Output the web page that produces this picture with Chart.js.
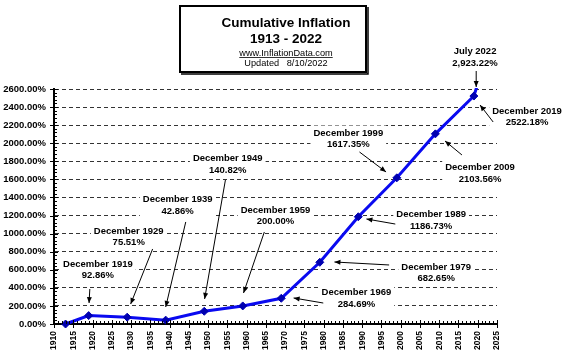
<!DOCTYPE html>
<html><head><meta charset="utf-8">
<script src="https://cdn.jsdelivr.net/npm/chart.js@4/dist/chart.umd.min.js"></script>
<style>html,body{margin:0;padding:0;background:#fff}#wrap{width:566px;height:357px;position:relative}</style>
</head><body><div id="wrap"><canvas id="c" width="566" height="357"></canvas></div>
<script>
// ---- data ----
const years = [1913, 1919, 1929, 1939, 1949, 1959, 1969, 1979, 1989, 1999, 2009, 2019, 2022];
const cumulative = [0, 92.86, 75.51, 42.86, 140.82, 200.00, 284.69, 682.65, 1186.73, 1617.35, 2103.56, 2522.18, 2923.22];
const noteTitles = ['December 1919','December 1929','December 1939','December 1949','December 1959','December 1969','December 1979','December 1989','December 1999','December 2009','December 2019','July 2022'];
const noteValues = ['92.86%','75.51%','42.86%','140.82%','200.00%','284.69%','682.65%','1186.73%','1617.35%','2103.56%','2522.18%','2,923.22%'];
const titleLines = ['Cumulative Inflation', '1913 - 2022'];
const siteLine = 'www.InflationData.com';
const updatedLine = 'Updated   8/10/2022';
const xMin = 1910, xMax = 2025, xStep = 5;
const yMin = 0, yMax = 2600, yStep = 200;

// ---- annotation placement (data coordinates: label centre, arrow start, arrow tip) ----
const notePlace = [
  {lx:1921.4, ly:603,  ax:1919.3, ay:387,  bx:1919.1, by:232},
  {lx:1929.4, ly:968,  ax:1935.6, ay:830,  bx:1929.9, by:221},
  {lx:1942.1, ly:1317, ax:1944.2, ay:1129, bx:1939.0, by:188},
  {lx:1955.1, ly:1770, ax:1954.5, ay:1593, bx:1949.1, by:277},
  {lx:1967.5, ly:1200, ax:1964.6, ay:1018, bx:1959.2, by:343},
  {lx:1988.5, ly:288,  ax:1979.9, ay:232,  bx:1972.2, by:288},
  {lx:2009.2, ly:570,  ax:1997.0, ay:653,  bx:1982.8, by:686},
  {lx:2007.9, ly:1151, ax:1998.6, ay:1106, bx:1991.1, by:1162},
  {lx:1986.4, ly:2052, ax:1989.3, ay:1903, bx:1996.2, by:1682},
  {lx:2020.6, ly:1671, ax:2015.9, ay:1870, bx:2011.5, by:2025},
  {lx:2032.8, ly:2296, ax:2024.0, ay:2235, bx:2020.6, by:2423},
  {lx:2019.3, ly:2954, ax:2019.6, ay:2799, bx:2019.6, by:2622}
];

const FONT = '"Liberation Sans", Arial, sans-serif';

const tickMarks = {
  id: 'tickMarks',
  afterDatasetsDraw(chart) {
    const {ctx, chartArea: a, scales: {x, y}} = chart;
    ctx.save();
    ctx.strokeStyle = '#000';
    ctx.lineWidth = 1;
    ctx.beginPath();
    for (let v = yMin; v <= yMax; v += 40) {
      const py = Math.round(y.getPixelForValue(v)) + 0.5;
      if (v % yStep === 0) { ctx.moveTo(a.left - 4, py); ctx.lineTo(a.left + 4, py); }
      else { ctx.moveTo(a.left, py); ctx.lineTo(a.left + 3, py); }
    }
    for (let v = xMin; v <= xMax; v += 1) {
      const px = Math.round(x.getPixelForValue(v)) + 0.5;
      if (v % xStep === 0) { ctx.moveTo(px, a.bottom - 4); ctx.lineTo(px, a.bottom + 4); }
      else { ctx.moveTo(px, a.bottom); ctx.lineTo(px, a.bottom - 3); }
    }
    ctx.stroke();
    ctx.restore();
  }
};

function arrow(ctx, x0, y0, x1, y1) {
  ctx.beginPath(); ctx.moveTo(x0, y0); ctx.lineTo(x1, y1); ctx.stroke();
  const ang = Math.atan2(y1 - y0, x1 - x0), L = 6, W = 2.5;
  ctx.beginPath();
  ctx.moveTo(x1, y1);
  ctx.lineTo(x1 - L * Math.cos(ang) + W * Math.sin(ang), y1 - L * Math.sin(ang) - W * Math.cos(ang));
  ctx.lineTo(x1 - L * Math.cos(ang) - W * Math.sin(ang), y1 - L * Math.sin(ang) + W * Math.cos(ang));
  ctx.closePath(); ctx.fill();
}

const notes = {
  id: 'notes',
  afterDraw(chart) {
    const {ctx, scales: {x, y}} = chart;
    ctx.save();
    ctx.font = 'bold 9.5px ' + FONT;
    ctx.textAlign = 'center';
    ctx.textBaseline = 'middle';
    notePlace.forEach((p, i) => {
      const cx = x.getPixelForValue(p.lx), cy = y.getPixelForValue(p.ly);
      const w = Math.max(ctx.measureText(noteTitles[i]).width, ctx.measureText(noteValues[i]).width) + 6;
      ctx.fillStyle = '#fff';
      ctx.fillRect(cx - w / 2, cy - 13, w, 26);
      ctx.fillStyle = '#000';
      ctx.fillText(noteTitles[i], cx, cy - 5.5);
      ctx.fillText(noteValues[i], cx, cy + 6);
      ctx.strokeStyle = '#000'; ctx.lineWidth = 1;
      arrow(ctx, x.getPixelForValue(p.ax), y.getPixelForValue(p.ay), x.getPixelForValue(p.bx), y.getPixelForValue(p.by));
    });
    // title box
    ctx.fillStyle = '#fff';
    ctx.fillRect(179, 5, 188, 68);
    ctx.strokeStyle = '#000'; ctx.lineWidth = 2;
    ctx.strokeRect(180, 6, 186, 66);
    ctx.beginPath(); ctx.moveTo(368, 7); ctx.lineTo(368, 74); ctx.lineTo(181, 74); ctx.lineWidth = 1.5; ctx.stroke();
    ctx.fillStyle = '#000';
    ctx.font = 'bold 13.5px ' + FONT;
    ctx.fillText(titleLines[0], 286, 23);
    ctx.fillText(titleLines[1], 286, 39.5);
    ctx.font = '9.2px ' + FONT;
    ctx.fillText(siteLine, 286, 53);
    const sw = ctx.measureText(siteLine).width;
    ctx.fillRect(286 - sw / 2, 57, sw, 0.8);
    ctx.fillText(updatedLine, 286, 63);
    ctx.restore();
  }
};

new Chart(document.getElementById('c'), {
  type: 'line',
  data: {
    datasets: [{
      data: years.map((yr, i) => ({x: yr, y: cumulative[i]})),
      borderColor: '#0a0af0',
      borderWidth: 3,
      pointStyle: 'rectRot',
      pointRadius: 4,
      pointBackgroundColor: '#0000b0',
      pointBorderColor: '#0000b0',
      pointBorderWidth: 1,
      tension: 0,
      clip: {left: 6, top: 1, right: 2, bottom: 6}
    }]
  },
  options: {
    responsive: false,
    devicePixelRatio: 1,
    animation: false,
    events: [],
    layout: {padding: {top: 89, right: 69, left: 0, bottom: 0}},
    plugins: {legend: {display: false}, tooltip: {enabled: false}, title: {display: false}},
    scales: {
      x: {
        type: 'linear', min: xMin, max: xMax,
        afterFit: s => { s.height = 33; },
        ticks: {stepSize: xStep, autoSkip: false, maxRotation: 90, minRotation: 90, padding: 7,
                color: '#000', font: {family: FONT, size: 8.5, weight: 'bold'}, callback: v => String(v)},
        grid: {display: false, drawTicks: false},
        border: {display: true, color: '#000', width: 2}
      },
      y: {
        min: yMin, max: yMax,
        afterFit: s => { s.width = 54; },
        ticks: {stepSize: yStep, padding: 8, color: '#000',
                font: {family: FONT, size: 9.5, weight: 'bold'}, callback: v => v.toFixed(2) + '%'},
        grid: {color: '#333', lineWidth: 1, drawTicks: false},
        border: {display: true, color: '#000', width: 2, dash: [4, 3]}
      }
    }
  },
  plugins: [tickMarks, notes]
});
</script></body></html>
